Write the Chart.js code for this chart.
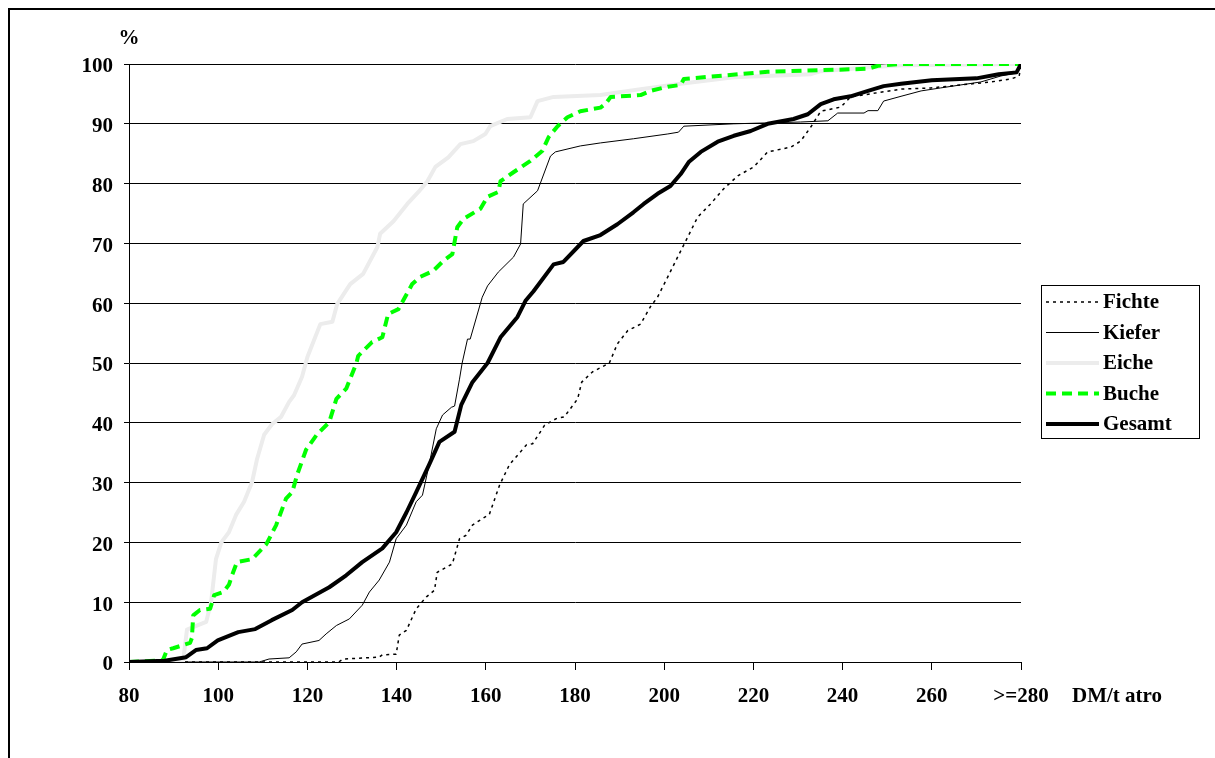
<!DOCTYPE html>
<html>
<head>
<meta charset="utf-8">
<script src="https://cdn.jsdelivr.net/npm/chart.js@4.4.1/dist/chart.umd.min.js"></script>
<style>
  html, body { margin: 0; padding: 0; background: #fff; overflow: hidden; }
  canvas { display: block; }
</style>
</head>
<body>
<canvas id="dmChart" width="1215" height="758"></canvas>
<script>
// tick labels of the x axis (DM/t atro) and the y axis (%)
const xTickLabels = ['80', '100', '120', '140', '160', '180', '200', '220', '240', '260', '>=280'];
const yTickValues = [0, 10, 20, 30, 40, 50, 60, 70, 80, 90, 100];

const seriesNames = ['Fichte', 'Kiefer', 'Eiche', 'Buche', 'Gesamt'];

// cumulative shares
const fichteX = [80, 127, 128, 136.1, 136.8, 139.9, 140.6, 142.2, 144.4, 146.7, 148.5, 149.1, 152.5, 154.1, 155.6, 157, 160.8, 163.1, 165.3, 169.1, 170.5, 173.2, 175.8, 177.6, 180.6, 181.5, 183.9, 187.7, 189.5, 191.8, 194.7, 196.9, 198.5, 200.8, 203, 205.3, 207.5, 210.4, 213.3, 216.5, 220.1, 223.2, 228.4, 230.6, 232.9, 235.1, 239.6, 241.8, 253.1, 259.8, 266.5, 273.3, 277.8, 279.6, 280];
const fichteY = [0, 0, 0.5, 0.8, 1.2, 1.3, 4.5, 5.3, 8.9, 10.9, 12, 15, 16.4, 20.6, 21.2, 22.9, 24.7, 29.6, 33, 36.3, 36.5, 39.6, 40.7, 41, 44, 46.8, 48.5, 50, 53.2, 55.4, 56.5, 59.4, 61, 64.4, 67.7, 71.1, 74.4, 76.6, 79.1, 81.3, 82.8, 85.3, 86.1, 87.1, 89.5, 92.1, 92.8, 94.5, 95.8, 96, 96.5, 97, 97.5, 98, 100];

const kieferX = [80, 109.2, 111.4, 115.9, 117.5, 118.8, 122.6, 124.2, 126.5, 129.4, 132.3, 133.9, 136.1, 138.4, 139.9, 142.2, 144.4, 145.8, 147.3, 148.9, 150.3, 152.3, 153, 154.1, 154.7, 155.9, 156.5, 159.2, 160.4, 162.8, 166.2, 167.8, 168.4, 171.6, 174.5, 175.6, 181.2, 185.7, 193.1, 200.8, 203.2, 204.4, 215.6, 230.6, 236.7, 238.9, 244.8, 245.7, 247.9, 249.2, 253.1, 257.6, 262, 266.5, 271, 275.5, 278.9, 280];
const kieferY = [0, 0, 0.5, 0.7, 1.7, 3, 3.6, 4.7, 6.1, 7.2, 9.5, 11.7, 13.7, 16.7, 20.6, 22.9, 26.8, 27.9, 33, 39, 41.3, 42.6, 42.8, 47.3, 50, 54, 54, 61, 62.9, 65.2, 67.7, 69.9, 76.6, 78.8, 84.6, 85.3, 86.3, 86.8, 87.5, 88.3, 88.6, 89.6, 90, 90.3, 90.5, 91.8, 91.8, 92.2, 92.2, 93.8, 94.6, 95.5, 96, 96.5, 97, 98, 98.5, 100];

const eicheX = [80, 92.1, 93, 97.3, 98.4, 99.5, 100.7, 102.4, 104, 105.8, 107.6, 108.7, 110.3, 112.1, 114.1, 115.9, 117, 118.8, 120, 122.9, 125.6, 126.7, 129.6, 132.5, 135.7, 136.3, 139.3, 142.4, 144.9, 146.9, 148.7, 151.6, 154.3, 157.2, 159.9, 161, 164.8, 170, 171.6, 175.2, 185.7, 194.7, 203.7, 215.6, 232.9, 235.1, 247, 253.1, 280];
const eicheY = [0, 0, 5.4, 6.7, 10, 17.2, 20, 21.7, 24.6, 26.8, 30.1, 33.9, 38, 39.8, 41, 43.5, 44.6, 47.7, 51, 56.5, 56.9, 59.9, 63.2, 64.9, 69.4, 71.6, 73.7, 76.6, 78.6, 80.4, 82.8, 84.4, 86.6, 87.1, 88.3, 89.6, 90.8, 91.1, 93.8, 94.5, 94.8, 95.8, 96.7, 97.8, 98.3, 98.8, 99.5, 99.8, 100];

const bucheX = [80, 87.6, 88.5, 89.9, 93.7, 94.1, 94.4, 95.9, 98.2, 99.1, 101.1, 102.4, 103.1, 104.2, 107.6, 110.8, 113, 115.2, 116.6, 117.7, 119.7, 122.2, 124.9, 126.5, 128.7, 131, 131.4, 134.5, 136.8, 138.1, 140.4, 143.5, 145.3, 148.2, 150.5, 152.5, 153.6, 155, 158.8, 160.4, 162.8, 163.3, 166.2, 170, 172.7, 174.1, 176.1, 178.3, 181.2, 185.7, 186.8, 188, 194.7, 196.9, 200.8, 203.7, 204.4, 223.2, 245.7, 247.9, 253.1, 280];
const bucheY = [0, 0.3, 2, 2.3, 3.2, 4, 7.8, 8.7, 8.9, 11.2, 11.7, 12.9, 14.5, 16.7, 17.2, 19.7, 22.9, 27.3, 28.4, 31.3, 35.5, 38.1, 40.1, 44, 45.7, 50, 51.2, 53.5, 54.3, 58.2, 59, 63.2, 64.4, 65.4, 67.1, 68.2, 72.7, 74.1, 75.8, 77.8, 78.6, 80.4, 81.9, 83.8, 85.5, 87.8, 89.6, 91.1, 92.1, 92.7, 93.3, 94.5, 94.8, 95.5, 96.2, 96.5, 97.5, 98.7, 99.2, 99.7, 100, 100];

const gesamtX = [80, 88, 92.8, 95, 97.5, 99.9, 104.5, 108.3, 112, 116.6, 118.8, 124.9, 128.7, 132.3, 136.8, 139.9, 142.2, 144.4, 147.3, 149.6, 153, 154.5, 157, 160.4, 163.3, 167.1, 168.9, 170.7, 175.2, 177.4, 181.9, 185.7, 189.5, 193.1, 195.4, 198.5, 201.4, 203.7, 205.5, 208.2, 212, 215.6, 219.4, 223.2, 229, 232.2, 235.1, 238, 241.8, 245.7, 249.2, 253.1, 260, 270, 275, 279, 280];
const gesamtY = [0, 0.2, 0.8, 2, 2.3, 3.6, 5, 5.5, 7, 8.7, 10, 12.5, 14.5, 16.7, 19, 21.7, 25, 28.4, 33, 36.8, 38.5, 43, 46.8, 50, 54.3, 57.7, 60.4, 62, 66.5, 66.9, 70.4, 71.4, 73.2, 75.2, 76.6, 78.3, 79.6, 81.6, 83.6, 85.3, 87, 88, 88.8, 90, 90.8, 91.6, 93.3, 94.1, 94.6, 95.5, 96.3, 96.7, 97.3, 97.6, 98.3, 98.6, 100];

function pts(xs, ys) {
    return xs.map((x, i) => ({ x: x, y: ys[i] }));
}

const FONT = '"Liberation Serif", "Times New Roman", serif';
Chart.defaults.font.family = FONT;
Chart.defaults.font.size = 21;
Chart.defaults.font.weight = 'bold';
Chart.defaults.color = '#000';

// outer frame (only top and left edges are in view)
const frame = {
    id: 'frame',
    beforeDraw(chart) {
        const c = chart.ctx;
        c.save();
        c.fillStyle = '#fff';
        c.fillRect(0, 0, chart.width, chart.height);
        c.fillStyle = '#000';
        c.fillRect(8, 8, chart.width - 8, 2);
        c.fillRect(8, 8, 2, chart.height - 8);
        c.restore();
    }
};

// boxed legend on the right, plus the unit labels
const boxLegend = {
    id: 'boxLegend',
    afterDraw(chart) {
        const c = chart.ctx;
        const area = chart.chartArea;
        c.save();
        c.font = 'bold 21px ' + FONT;
        c.fillStyle = '#000';
        c.textBaseline = 'middle';

        c.textAlign = 'center';
        c.fillText('%', area.left, 39);
        c.textAlign = 'left';
        c.fillText('DM/t atro', area.right + 51, area.bottom + 35);

        const bx = area.right + 20, by = 285;
        c.strokeStyle = '#000';
        c.lineWidth = 1;
        c.strokeRect(bx + 0.5, by + 0.5, 158, 153);
        chart.data.datasets.forEach((ds, i) => {
            const y = by + 17 + i * 30.5;
            c.beginPath();
            c.setLineDash(ds.borderDash || []);
            c.lineWidth = ds.borderWidth;
            c.strokeStyle = ds.borderColor;
            c.moveTo(bx + 5, y);
            c.lineTo(bx + 58, y);
            c.stroke();
            c.setLineDash([]);
            c.fillText(ds.label, bx + 62, y + 1);
        });
        c.restore();
    }
};

const ctx = document.getElementById('dmChart').getContext('2d');

new Chart(ctx, {
    type: 'line',
    data: {
        datasets: [
            { label: seriesNames[0], data: pts(fichteX, fichteY), borderColor: '#000', borderWidth: 1.5, borderDash: [3, 4], order: 4 },
            { label: seriesNames[1], data: pts(kieferX, kieferY), borderColor: '#000', borderWidth: 1, order: 3 },
            { label: seriesNames[2], data: pts(eicheX, eicheY), borderColor: '#ececec', borderWidth: 4, order: 2 },
            { label: seriesNames[3], data: pts(bucheX, bucheY), borderColor: '#00ff00', borderWidth: 4, borderDash: [10, 6], order: 1 },
            { label: seriesNames[4], data: pts(gesamtX, gesamtY), borderColor: '#000', borderWidth: 4, order: 0 }
        ]
    },
    options: {
        responsive: false,
        animation: false,
        devicePixelRatio: 1,
        elements: {
            point: { radius: 0, hoverRadius: 0 },
            line: { tension: 0, fill: false, borderCapStyle: 'butt', borderJoinStyle: 'round' }
        },
        layout: { padding: { left: 0, top: 64, right: 194, bottom: 0 } },
        plugins: {
            legend: { display: false },
            tooltip: { enabled: false }
        },
        scales: {
            x: {
                type: 'linear',
                min: 80,
                max: 280,
                afterFit(scale) { scale.height = 96; },
                grid: { drawOnChartArea: false, drawTicks: true, tickLength: 8, color: '#000', lineWidth: 1 },
                border: { display: true, color: '#000', width: 1 },
                ticks: {
                    stepSize: 20,
                    autoSkip: false,
                    maxRotation: 0,
                    padding: 14,
                    callback: (v) => xTickLabels[Math.round((v - 80) / 20)]
                }
            },
            y: {
                min: 0,
                max: 100,
                afterFit(scale) { scale.width = 129; },
                afterBuildTicks(scale) { scale.ticks = yTickValues.map(v => ({ value: v })); },
                grid: { drawOnChartArea: true, drawTicks: true, tickLength: 5, color: '#000', lineWidth: 1 },
                border: { display: true, color: '#000', width: 1 },
                ticks: { padding: 11, labelOffset: 3 }
            }
        }
    },
    plugins: [frame, boxLegend]
});
</script>
</body>
</html>
